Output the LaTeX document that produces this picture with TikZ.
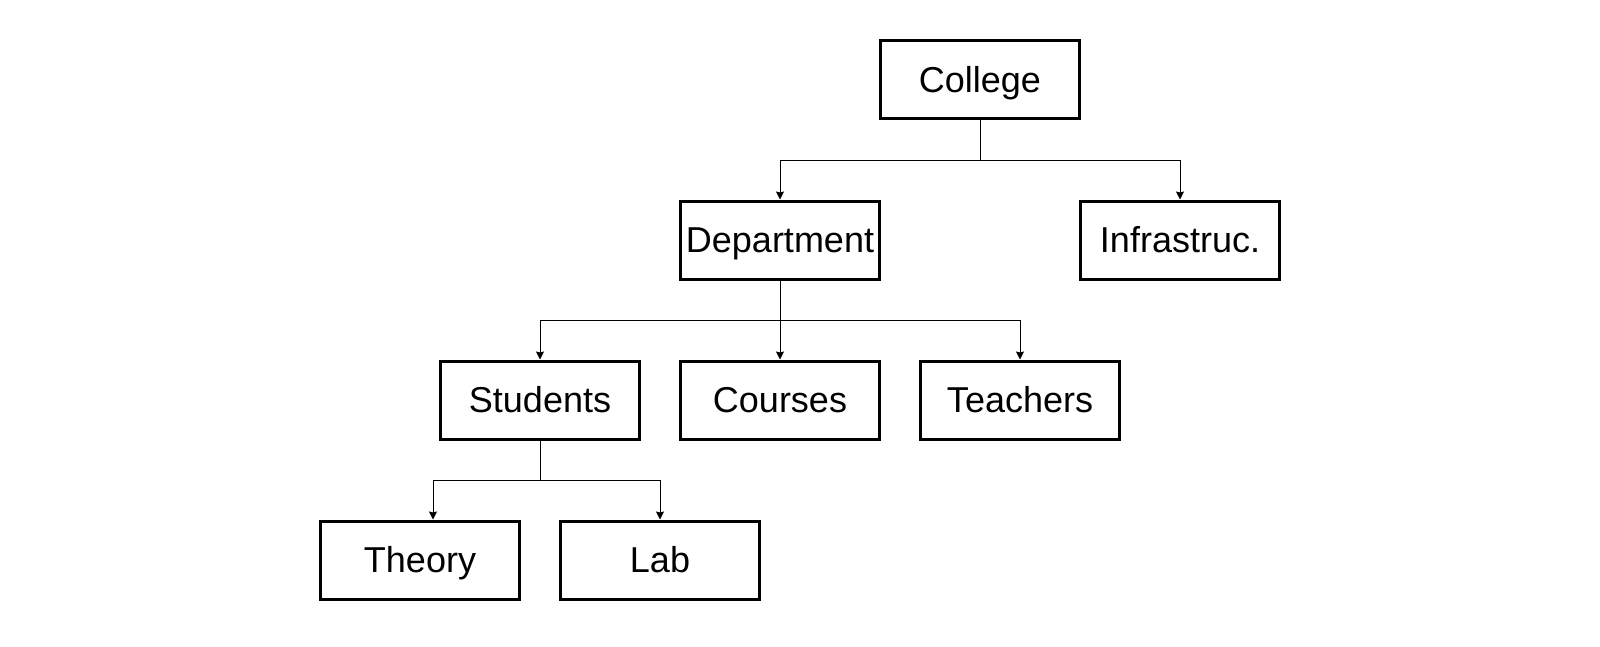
\documentclass[tikz,border=0pt]{standalone}
\usepackage{fontspec}
\setmainfont{Liberation Sans}
\usetikzlibrary{arrows.meta}
\tikzset{box/.style={draw,line width=1.5pt,minimum width=99.5pt,minimum height=39pt,inner sep=0pt,text height=12.7pt,text depth=0pt,font=\fontsize{18}{20}\selectfont},
  link/.style={line width=0.5pt,-{Stealth[length=4pt,width=4pt,inset=0.5pt]}}}
\begin{document}
\begin{tikzpicture}[x=0.5pt,y=-0.5pt]
\useasboundingbox (0,0) rectangle (1600,647);
\node[box] (coll) at (980,80) {College};
\node[box] (dept) at (780,240) {Department}; \node[box] (infra) at (1180,240) {Infrastruc.};
\node[box] (stud) at (540,400) {Students}; \node[box] (cour) at (780,400) {Courses};
\node[box] (teach) at (1020,400) {Teachers};
\node[box] (theo) at (420,560) {Theory}; \node[box] (lab) at (660,560) {Lab};
\draw[link] (coll.south) -- ++(0,40) -| (dept.north);
\draw[link] (coll.south) -- ++(0,40) -| (infra.north);
\draw[link] (dept.south) -- ++(0,40) -| (stud.north);
\draw[link] (dept.south) -- (cour.north);
\draw[link] (dept.south) -- ++(0,40) -| (teach.north);
\draw[link] (stud.south) -- ++(0,40) -| ([xshift=6.5pt]theo.north);
\draw[link] (stud.south) -- ++(0,40) -| (lab.north);
\end{tikzpicture}
\end{document}
